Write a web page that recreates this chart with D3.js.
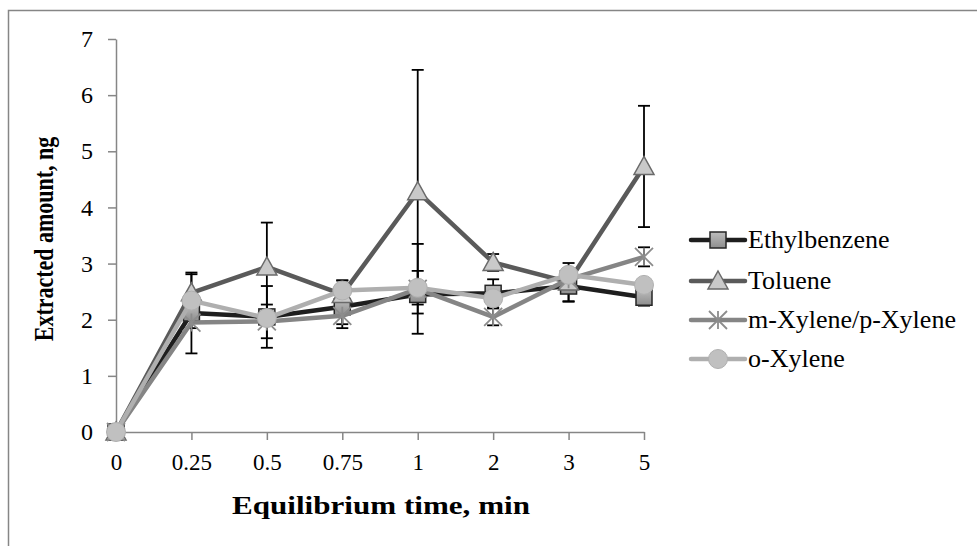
<!DOCTYPE html>
<html>
<head>
<meta charset="utf-8">
<script src="https://cdn.jsdelivr.net/npm/d3@7"></script>
<style>
  body { margin: 0; background: #fff; }
  text { font-family: "Liberation Serif", "Times New Roman", serif; fill: #000; }
</style>
</head>
<body>
<div id="chart"></div>
<script>
// categories on the x axis (equilibrium time, min)
const times = ["0", "0.25", "0.5", "0.75", "1", "2", "3", "5"];
const yTicks = [0, 1, 2, 3, 4, 5, 6, 7];

// extracted amount, ng
const ethylbenzene = [0, 2.12, 2.05, 2.23, 2.45, 2.47, 2.6, 2.4];
const toluene      = [0, 2.48, 2.94, 2.45, 4.28, 3.02, 2.67, 4.73];
const mpXylene     = [0, 1.95, 1.97, 2.07, 2.55, 2.05, 2.72, 3.12];
const oXylene      = [0, 2.34, 2.03, 2.52, 2.57, 2.38, 2.8, 2.62];

// error bar half-widths
const ethylbenzeneErr = [0, 0.72, 0.55, 0.38, 0.1, 0.25, 0.28, 0.15];
const tolueneErr      = [0, 0.33, 0.79, 0.25, 2.17, 0.15, 0.34, 1.08];
const mpXyleneErr     = [0, 0.1, 0.3, 0.15, 0.8, 0.15, 0.1, 0.17];
const oXyleneErr      = [0, 0.1, 0.1, 0.18, 0.3, 0.1, 0.1, 0.1];

const seriesNames = ["Ethylbenzene", "Toluene", "m-Xylene/p-Xylene", "o-Xylene"];

const series = [
  {name: seriesNames[0], values: ethylbenzene, err: ethylbenzeneErr, line: "#1e1e1e", marker: "square"},
  {name: seriesNames[1], values: toluene, err: tolueneErr, line: "#5a5a5a", marker: "triangle"},
  {name: seriesNames[2], values: mpXylene, err: mpXyleneErr, line: "#858585", marker: "star"},
  {name: seriesNames[3], values: oXylene, err: oXyleneErr, line: "#afafaf", marker: "circle"}
];

const W = 977, H = 546;
const svg = d3.select("#chart").append("svg")
  .attr("width", W).attr("height", H);

const defs = svg.append("defs");
const grad = defs.append("linearGradient").attr("id", "sqGrad")
  .attr("x1", 0).attr("y1", 0).attr("x2", 0).attr("y2", 1);
grad.append("stop").attr("offset", "0%").attr("stop-color", "#bdbdbd");
grad.append("stop").attr("offset", "100%").attr("stop-color", "#8e8e8e");

// outer chart border
svg.append("rect")
  .attr("x", 8.5).attr("y", 10.5)
  .attr("width", 990).attr("height", 560)
  .attr("fill", "none").attr("stroke", "#868686").attr("stroke-width", 1.5);

const x = d3.scalePoint().domain(times).range([116, 644]);
const y = d3.scaleLinear().domain([0, 7]).range([432, 39]);

// y axis
const yAxis = svg.append("g")
  .attr("transform", "translate(116,0)")
  .call(d3.axisLeft(y).tickValues(yTicks).tickFormat(d3.format("d"))
    .tickSize(8).tickPadding(15).tickSizeOuter(0));
yAxis.select(".domain").attr("stroke", "#868686").attr("stroke-width", 1.5);
yAxis.selectAll(".tick line").attr("stroke", "#868686").attr("stroke-width", 1.5);
yAxis.selectAll(".tick text").style("font-size", "24px").attr("fill", "#000")
  .style("font-family", "Liberation Serif");

// x axis
const xAxis = svg.append("g")
  .attr("transform", "translate(0,432)")
  .call(d3.axisBottom(x).tickSize(8).tickPadding(14).tickSizeOuter(0));
xAxis.select(".domain").attr("stroke", "#868686").attr("stroke-width", 1.5);
xAxis.selectAll(".tick line").attr("stroke", "#868686").attr("stroke-width", 1.5);
xAxis.selectAll(".tick text").style("font-size", "23px").attr("fill", "#000")
  .style("font-family", "Liberation Serif");

// axis titles
svg.append("text")
  .attr("x", 381).attr("y", 514)
  .attr("text-anchor", "middle")
  .attr("textLength", 298).attr("lengthAdjust", "spacingAndGlyphs")
  .style("font-size", "25px").style("font-weight", "bold")
  .text("Equilibrium time, min");
svg.append("text")
  .attr("transform", "translate(53,239) rotate(-90) scale(1,1.2)")
  .attr("text-anchor", "middle")
  .style("font-size", "22px").style("font-weight", "bold")
  .text("Extracted amount, ng");

// error bars
const eb = svg.append("g");
series.forEach(s => {
  s.values.forEach((v, i) => {
    const e = s.err[i];
    if (!e) return;
    const cx = x(times[i]);
    const g = eb.append("g").attr("stroke", "#000").attr("stroke-width", 1.8);
    g.append("line").attr("x1", cx).attr("x2", cx).attr("y1", y(v - e)).attr("y2", y(v + e));
    g.append("line").attr("x1", cx - 6).attr("x2", cx + 6).attr("y1", y(v + e)).attr("y2", y(v + e));
    g.append("line").attr("x1", cx - 6).attr("x2", cx + 6).attr("y1", y(v - e)).attr("y2", y(v - e));
  });
});

const line = d3.line().x((d, i) => x(times[i])).y(d => y(d));

function drawMarker(g, type, cx, cy) {
  if (type === "square") {
    g.append("rect").attr("x", cx - 8).attr("y", cy - 8).attr("width", 16).attr("height", 16)
      .attr("fill", "url(#sqGrad)").attr("stroke", "#262626").attr("stroke-width", 1.5);
  } else if (type === "triangle") {
    g.append("path").attr("d", `M${cx},${cy - 10}L${cx + 10},${cy + 8}L${cx - 10},${cy + 8}Z`)
      .attr("fill", "#c9c9c9").attr("stroke", "#6a6a6a").attr("stroke-width", 1.5);
  } else if (type === "star") {
    const r = 9;
    g.append("path")
      .attr("d", `M${cx - r},${cy - r}L${cx + r},${cy + r}M${cx - r},${cy + r}L${cx + r},${cy - r}M${cx},${cy - r}L${cx},${cy + r}`)
      .attr("stroke", "#8c8c8c").attr("stroke-width", 1.8).attr("fill", "none");
  } else {
    g.append("circle").attr("cx", cx).attr("cy", cy).attr("r", 9.5)
      .attr("fill", "#c0c0c0").attr("stroke", "#b0b0b0").attr("stroke-width", 1);
  }
}

// lines and markers
series.forEach(s => {
  svg.append("path").datum(s.values)
    .attr("d", line)
    .attr("fill", "none")
    .attr("stroke", s.line)
    .attr("stroke-width", 4.5)
    .attr("stroke-linejoin", "round");
  const mg = svg.append("g");
  s.values.forEach((v, i) => drawMarker(mg, s.marker, x(times[i]), y(v)));
});

// legend
const legendY = [240, 281, 320, 359];
series.forEach((s, i) => {
  const ly = legendY[i];
  const g = svg.append("g");
  g.append("line").attr("x1", 691).attr("x2", 745).attr("y1", ly).attr("y2", ly)
    .attr("stroke", s.line).attr("stroke-width", 4.5).attr("stroke-linecap", "round");
  drawMarker(g, s.marker, 718, ly);
  g.append("text").attr("x", 748).attr("y", ly + 8)
    .style("font-size", "26px").text(s.name);
});
</script>
</body>
</html>
